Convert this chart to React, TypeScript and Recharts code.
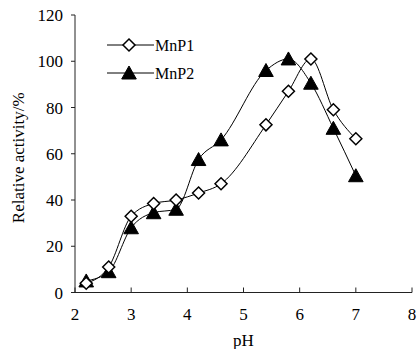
import React from 'react';
import { LineChart, Line, XAxis, YAxis, Legend } from 'recharts';

const phValues = [2.2, 2.6, 3.0, 3.4, 3.8, 4.2, 4.6, 5.4, 5.8, 6.2, 6.6, 7.0];
const mnp1 = [4, 11, 33, 38.5, 40, 43, 47, 72.5, 87, 101, 79, 66.5];
const mnp2 = [5, 9, 28, 34.5, 36, 57.5, 66, 96, 101, 90.5, 71, 50.5];
const xTicks = [2, 3, 4, 5, 6, 7, 8];
const yTicks = [0, 20, 40, 60, 80, 100, 120];

const data = phValues.map((ph, i) => ({ ph, mnp1: mnp1[i], mnp2: mnp2[i] }));

const FONT = '"Liberation Serif", "Times New Roman", serif';

const diamond = (cx: number, cy: number, key?: string) => (
  <path
    key={key}
    d={`M${cx},${cy - 6} L${cx + 6},${cy} L${cx},${cy + 6} L${cx - 6},${cy} Z`}
    fill="#fff"
    stroke="#000"
    strokeWidth={1.5}
  />
);

const triangle = (cx: number, cy: number, key?: string) => (
  <path
    key={key}
    d={`M${cx},${cy - 7} L${cx + 7.3},${cy + 6} L${cx - 7.3},${cy + 6} Z`}
    fill="#000"
    stroke="#000"
    strokeWidth={1}
  />
);

// x ticks point inward (up), labels below the axis
const XTick = (props: any) => {
  const { x, y, payload } = props;
  const axisY = y - 8; // tickSize 6 + tickMargin 2
  return (
    <g>
      <line x1={x} x2={x} y1={axisY} y2={axisY - 5} stroke="#222" strokeWidth={1} />
      <text x={x} y={axisY + 27} textAnchor="middle" fontSize={17} fontFamily={FONT} fill="#000">
        {payload.value}
      </text>
    </g>
  );
};

const LegendBox = () => (
  <svg width={110} height={46} style={{ overflow: 'visible' }}>
    <line x1={0} x2={47} y1={10} y2={10} stroke="#000" strokeWidth={1} />
    {diamond(22, 10)}
    <text x={48} y={15.5} fontSize={16} fontFamily={FONT} fill="#000">MnP1</text>
    <line x1={0} x2={47} y1={38} y2={38} stroke="#000" strokeWidth={1} />
    {triangle(22, 38)}
    <text x={48} y={43.5} fontSize={16} fontFamily={FONT} fill="#000">MnP2</text>
  </svg>
);

export default function App() {
  return (
    <div style={{ position: 'absolute', left: 0, top: 0, width: 418, height: 349 }}>
      <LineChart
        width={418}
        height={349}
        data={data}
        margin={{ top: 15, right: 6, bottom: 0, left: 0 }}
      >
        <XAxis
          dataKey="ph"
          type="number"
          domain={[2, 8]}
          ticks={xTicks}
          height={56.5}
          stroke="#222"
          tickLine={false}
          tickSize={6}
          tickMargin={2}
          tick={<XTick />}
          label={{
            content: (p: any) => {
              const vb = p.viewBox;
              return (
                <text x={vb.x + vb.width / 2} y={vb.y + 53.5} textAnchor="middle" fontSize={17} fontFamily={FONT} fill="#000">
                  pH
                </text>
              );
            }
          }}
        />
        <YAxis
          type="number"
          domain={[0, 120]}
          ticks={yTicks}
          width={75}
          stroke="#222"
          tickSize={4}
          tickMargin={8}
          tick={{ fontSize: 17, fontFamily: FONT, fill: '#000' }}
          label={{
            content: (p: any) => {
              const vb = p.viewBox;
              const cx = vb.x + 18;
              const cy = vb.y + vb.height / 2 + 4;
              return (
                <text x={cx} y={cy} transform={`rotate(-90, ${cx}, ${cy})`} textAnchor="middle" dominantBaseline="central" fontSize={17} fontFamily={FONT} fill="#000">
                  Relative activity/%
                </text>
              );
            }
          }}
        />
        <Legend
          layout="vertical"
          align="center"
          verticalAlign="middle"
          content={<LegendBox />}
          wrapperStyle={{ left: 107, top: 35, width: 110, height: 46 }}
        />
        <Line
          type="monotone"
          dataKey="mnp2"
          name="MnP2"
          stroke="#000"
          strokeWidth={1}
          isAnimationActive={false}
          dot={(p: any) => triangle(p.cx, p.cy, `t-${p.index}`)}
        />
        <Line
          type="monotone"
          dataKey="mnp1"
          name="MnP1"
          stroke="#000"
          strokeWidth={1}
          isAnimationActive={false}
          dot={(p: any) => diamond(p.cx, p.cy, `d-${p.index}`)}
        />
      </LineChart>
    </div>
  );
}
